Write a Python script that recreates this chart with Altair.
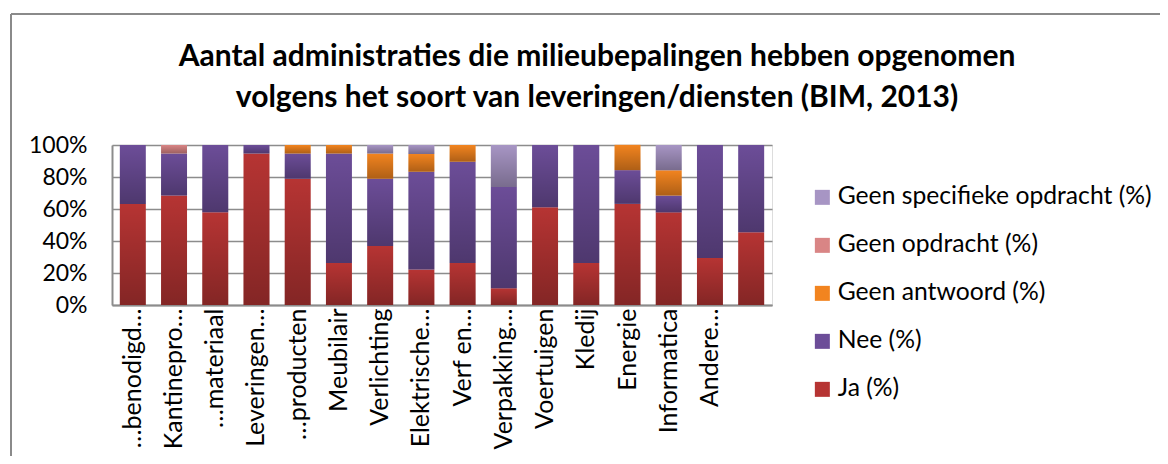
import altair as alt
import pandas as pd

categories = ["…benodigd…", "Kantinepro…", "…materiaal", "Leveringen…", "…producten",
              "Meubilair", "Verlichting", "Elektrische…", "Verf en…", "Verpakking…",
              "Voertuigen", "Kledij", "Energie", "Informatica", "Andere…", " "]
ja            = [63.2, 68.4, 57.9, 94.7, 78.9, 26.3, 36.8, 22.2, 26.3, 10.5, 61.1, 26.3, 63.2, 57.9, 29.4, 45.5]
nee           = [36.8, 26.3, 42.1,  5.3, 15.8, 68.4, 42.1, 61.1, 63.2, 63.2, 38.9, 73.7, 21.1, 10.5, 70.6, 54.5]
geen_antwoord = [ 0.0,  0.0,  0.0,  0.0,  5.3,  5.3, 15.8, 11.1, 10.5,  0.0,  0.0,  0.0, 15.8, 15.8,  0.0,  0.0]
geen_opdracht = [ 0.0,  5.3,  0.0,  0.0,  0.0,  0.0,  0.0,  0.0,  0.0,  0.0,  0.0,  0.0,  0.0,  0.0,  0.0,  0.0]
geen_specifiek= [ 0.0,  0.0,  0.0,  0.0,  0.0,  0.0,  5.3,  5.6,  0.0, 26.3,  0.0,  0.0,  0.0, 15.8,  0.0,  0.0]

series_names = ["Ja (%)", "Nee (%)", "Geen antwoord (%)", "Geen opdracht (%)", "Geen specifieke opdracht (%)"]
series_values = [ja, nee, geen_antwoord, geen_opdracht, geen_specifiek]
series_colors = ["#b63433", "#6c4d98", "#f2841f", "#d98585", "#a795c4"]
y_ticks = [0, 20, 40, 60, 80, 100]

rows = []
for k, (name, vals) in enumerate(zip(series_names, series_values)):
    for c, v in zip(categories, vals):
        if v > 0:
            rows.append({"cat": c, "serie": name, "val": v, "k": k})
df = pd.DataFrame(rows)

FONT = "Lato"

x_enc = alt.X("cat:N", sort=categories, title=None,
              scale=alt.Scale(paddingInner=0.37, paddingOuter=0.19),
              axis=alt.Axis(labelAngle=270, labelAlign="right", labelBaseline="middle",
                            labelPadding=3, ticks=False, domainColor="#8c8c8c",
                            domainWidth=2, labelFontSize=25, labelColor="#000000",
                            labelFont=FONT, grid=False, labelOverlap=False))
y_enc = alt.Y("sum(val):Q", stack="zero", title=None,
              scale=alt.Scale(domain=[0, 100]),
              axis=alt.Axis(values=y_ticks, labelExpr="datum.value + '%'",
                            ticks=False, labelPadding=25, domainColor="#8c8c8c", domainWidth=2,
                            gridColor="#8c8c8c", gridWidth=1.4, labelFontSize=23,
                            labelColor="#000000", labelFont=FONT, labelOverlap=False,
                            labelFlush=False))
order_enc = alt.Order("k:Q", sort="ascending")

legend_order = list(reversed(series_names))
legend_colors = list(reversed(series_colors))

bars = alt.Chart(df).mark_bar().encode(
    x=x_enc,
    y=y_enc,
    order=order_enc,
    color=alt.Color("serie:N",
                    scale=alt.Scale(domain=legend_order, range=legend_colors),
                    legend=alt.Legend(title=None, orient="none", legendX=698, legendY=40,
                                      symbolType="square", symbolSize=225,
                                      symbolStrokeWidth=0, symbolOpacity=1,
                                      labelFontSize=24.7, labelFont=FONT, labelColor="#000000",
                                      labelOffset=3, rowPadding=22, labelLimit=400)),
)

shade = alt.Chart(df).mark_bar(
    color=alt.Gradient(gradient="linear",
                       stops=[alt.GradientStop(color="rgba(0,0,0,0)", offset=0),
                              alt.GradientStop(color="rgba(0,0,0,0.28)", offset=1)],
                       x1=0, x2=0, y1=0, y2=1)
).encode(x=x_enc, y=y_enc, order=order_enc, detail="serie:N")

one = pd.DataFrame({"a": [0]})
frame_top = alt.Chart(one).mark_rule(color="#8a8a8a", strokeWidth=2).encode(
    x=alt.value(-101), x2=alt.value(1100), y=alt.value(-131))
frame_left = alt.Chart(one).mark_rule(color="#8a8a8a", strokeWidth=2).encode(
    x=alt.value(-101), y=alt.value(-131), y2=alt.value(400))

chart = alt.layer(bars, shade, frame_top, frame_left).properties(
    width=660, height=160,
    autosize=alt.AutoSizeParams(type="none"),
    padding={"left": 104, "top": 137, "right": 388, "bottom": 151},
    title=alt.TitleParams(
        text=["Aantal administraties die milieubepalingen hebben opgenomen",
              "volgens het soort van leveringen/diensten (BIM, 2013)"],
        font=FONT, fontSize=30, fontWeight="bold", color="#000000",
        anchor="middle", dx=155, dy=130, offset=30, lineHeight=41),
).configure_view(stroke=None).configure_axis(labelOverlap=False).configure(background="white")

chart.save("out.html", embed_options={"renderer": "svg", "actions": False})
